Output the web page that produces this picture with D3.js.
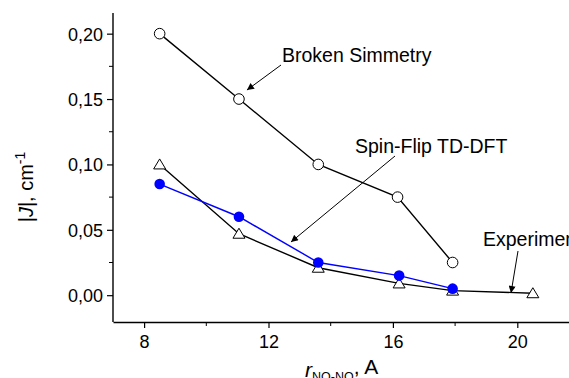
<!DOCTYPE html>
<html>
<head>
<meta charset="utf-8">
<script src="https://cdn.jsdelivr.net/npm/d3@7"></script>
<style>
  body { margin: 0; background: #fff; }
  svg { display: block; font-family: Arial, "Liberation Sans", sans-serif; }
</style>
</head>
<body>
<div id="canvas"></div>
<script>
// r(NO-NO) in A, |J| in cm^-1
const rBroken = [8.5, 11.05, 13.6, 16.15, 17.92];
const jBroken = [0.200, 0.150, 0.100, 0.075, 0.025];

const rSpinFlip = [8.5, 11.05, 13.6, 16.2, 17.92];
const jSpinFlip = [0.085, 0.060, 0.025, 0.015, 0.005];

const rExp = [8.5, 11.05, 13.6, 16.2, 17.92, 20.5];
const jExp = [0.100, 0.047, 0.021, 0.009, 0.0035, 0.0015];

const xTicks = [8, 12, 16, 20];
const xMinor = [10, 14, 18];
const yTicks = [0, 0.05, 0.10, 0.15, 0.20];
const yMinor = [0.025, 0.075, 0.125, 0.175];

const W = 569, H = 378;
const margin = { top: 13, left: 113, bottom: 56 };

const svg = d3.select("#canvas")
    .append("svg")
    .attr("width", W)
    .attr("height", H);

const x = d3.scaleLinear().domain([7, 22]).range([margin.left, margin.left + 15 * 31.1]);
const y = d3.scaleLinear().domain([-0.0205, 0.2158]).range([H - margin.bottom, margin.top]);

const fmt = d => d3.format(".2f")(d).replace(".", ",");

// axes
const yAxis = svg.append("g")
    .attr("transform", `translate(${margin.left},0)`)
    .call(d3.axisLeft(y).tickValues(yTicks).tickFormat(fmt).tickSize(6).tickPadding(4).tickSizeOuter(0));
yAxis.select(".domain").attr("d", `M0,${y.range()[0]}V${y.range()[1]}`);
yAxis.selectAll("line.minor").data(yMinor).join("line")
    .attr("class", "minor")
    .attr("x1", 0).attr("x2", -4)
    .attr("y1", d => y(d)).attr("y2", d => y(d))
    .attr("stroke", "#000");

const xAxis = svg.append("g")
    .attr("transform", `translate(0,${y.range()[0]})`)
    .call(d3.axisBottom(x).tickValues(xTicks).tickSize(6).tickPadding(7).tickSizeOuter(0));
xAxis.selectAll("line.minor").data(xMinor).join("line")
    .attr("class", "minor")
    .attr("y1", 0).attr("y2", 4)
    .attr("x1", d => x(d)).attr("x2", d => x(d))
    .attr("stroke", "#000");

svg.selectAll(".domain").attr("stroke-width", 1.4);
svg.selectAll(".tick line").attr("stroke-width", 1.2);
svg.selectAll(".tick text")
    .attr("font-size", 18)
    .attr("font-family", "Arial, 'Liberation Sans', sans-serif")
    .attr("fill", "#000");
yAxis.selectAll(".tick text").attr("dy", "0.36em");

// lines
const line = d3.line().x(d => x(d[0])).y(d => y(d[1]));

svg.append("path")
    .datum(d3.zip(rBroken, jBroken))
    .attr("fill", "none").attr("stroke", "#000").attr("stroke-width", 1.4)
    .attr("d", line);
svg.append("path")
    .datum(d3.zip(rExp, jExp))
    .attr("fill", "none").attr("stroke", "#000").attr("stroke-width", 1.4)
    .attr("d", line);
svg.append("path")
    .datum(d3.zip(rSpinFlip, jSpinFlip))
    .attr("fill", "none").attr("stroke", "#0000ff").attr("stroke-width", 1.4)
    .attr("d", line);

// markers
svg.append("g").selectAll("circle")
    .data(d3.zip(rBroken, jBroken))
    .join("circle")
    .attr("cx", d => x(d[0])).attr("cy", d => y(d[1]))
    .attr("r", 5.3)
    .attr("fill", "#fff").attr("stroke", "#000").attr("stroke-width", 1);

svg.append("g").selectAll("path")
    .data(d3.zip(rExp, jExp))
    .join("path")
    .attr("transform", d => `translate(${x(d[0])},${y(d[1])})`)
    .attr("d", "M0,-5.5L6,4.5L-6,4.5Z")
    .attr("fill", "#fff").attr("stroke", "#000").attr("stroke-width", 1);

svg.append("g").selectAll("circle")
    .data(d3.zip(rSpinFlip, jSpinFlip))
    .join("circle")
    .attr("cx", d => x(d[0])).attr("cy", d => y(d[1]))
    .attr("r", 5.3)
    .attr("fill", "#0000ff");

// annotations
svg.append("defs").append("marker")
    .attr("id", "arrow")
    .attr("viewBox", "0 0 10 10")
    .attr("refX", 10).attr("refY", 5)
    .attr("markerWidth", 9).attr("markerHeight", 7)
    .attr("markerUnits", "userSpaceOnUse")
    .attr("orient", "auto")
    .append("path")
    .attr("d", "M0,0L10,5L0,10Z")
    .attr("fill", "#000");

const notes = [
    { text: "Broken Simmetry", tx: 282, ty: 62, from: [281, 65], to: [x(rBroken[1]) + 8, y(jBroken[1]) - 9] },
    { text: "Spin-Flip TD-DFT", tx: 355, ty: 153, from: [395, 156], to: [291, 242] },
    { text: "Experiment", tx: 483, ty: 246, from: [518, 251], to: [511, 293] }
];

notes.forEach(n => {
    svg.append("line")
        .attr("x1", n.from[0]).attr("y1", n.from[1])
        .attr("x2", n.to[0]).attr("y2", n.to[1])
        .attr("stroke", "#000").attr("stroke-width", 1)
        .attr("marker-end", "url(#arrow)");
    svg.append("text")
        .attr("x", n.tx).attr("y", n.ty)
        .attr("font-size", 19.5)
        .attr("fill", "#000")
        .text(n.text);
});

// axis titles
const yTitle = svg.append("text")
    .attr("transform", "translate(33,187) rotate(-90)")
    .attr("text-anchor", "middle")
    .attr("font-size", 20);
yTitle.append("tspan").text("|");
yTitle.append("tspan").attr("font-style", "italic").text("J");
yTitle.append("tspan").text("|, cm");
yTitle.append("tspan").attr("font-size", 14).attr("dy", "-0.6em").text("-1");

const xTitle = svg.append("text")
    .attr("x", 305).attr("y", 377)
    .attr("font-size", 21);
xTitle.append("tspan").attr("font-style", "italic").text("r");
xTitle.append("tspan").attr("font-size", 12.5).attr("dy", "0.3em").text("NO-NO");
xTitle.append("tspan").attr("dy", "-0.3em").text(", A");
</script>
</body>
</html>
